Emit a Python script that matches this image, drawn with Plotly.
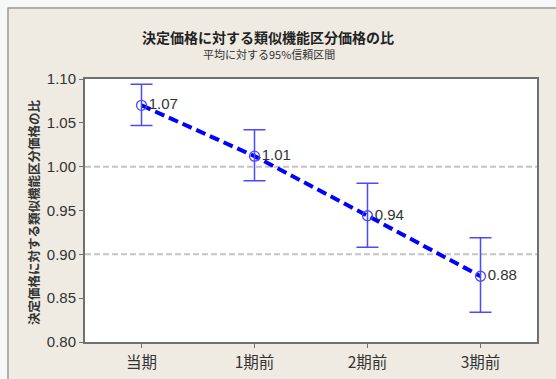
import plotly.graph_objects as go

categories = ['当期', '1期前', '2期前', '3期前']
means = [1.070, 1.012, 0.944, 0.875]
upper = [1.094, 1.042, 0.981, 0.919]
lower = [1.047, 0.984, 0.908, 0.834]
labels = ['1.07', '1.01', '0.94', '0.88']
ref_lines = [1.00, 0.90]

title = '決定価格に対する類似機能区分価格の比'
subtitle = '平均に対する95%信頼区間'
ytitle = '決定価格に対する類似機能区分価格の比'

W, H = 556, 379
L, R, T, B = 85, 537, 79, 342
pw, ph = R - L, B - T

def px_x(p):
    return (p - L) / pw

def px_y(p):
    return (B - p) / ph

FONT = 'Liberation Sans, Arial, Noto Sans CJK JP'
CJK = 'Noto Sans CJK JP, Liberation Sans'
BEIGE = '#EFEBE2'

xs = list(range(len(categories)))
err_plus = [u - m for u, m in zip(upper, means)]
err_minus = [m - l for m, l in zip(means, lower)]

fig = go.Figure()

# line
fig.add_trace(go.Scatter(
    x=xs, y=means, mode='lines',
    line=dict(color='#0000FF', width=4, dash='10px,5px'),
    hoverinfo='skip', showlegend=False))

# markers + error bars + labels
fig.add_trace(go.Scatter(
    x=xs, y=means, mode='markers+text',
    marker=dict(symbol='circle-open', size=10, color='#4A4AFF', line=dict(width=1.3)),
    error_y=dict(type='data', symmetric=False, array=err_plus, arrayminus=err_minus,
                 color='#4A4AFF', thickness=1.5, width=11),
    text=labels, textposition='middle right',
    textfont=dict(family=FONT, size=15, color='#333333'),
    showlegend=False))

shapes = []
for v in ref_lines:
    shapes.append(dict(type='line', xref='x', yref='y', x0=-0.5, x1=3.5, y0=v, y1=v,
                       line=dict(color='#C4C4C4', width=2, dash='6px,3px'), layer='below'))
# outer frame: white strips outside, gray border lines
shapes.append(dict(type='rect', xref='paper', yref='paper', x0=px_x(-5), x1=px_x(W + 5),
                   y0=px_y(7.5), y1=px_y(-5), fillcolor='#F6F7F9', line=dict(width=0), layer='above'))
shapes.append(dict(type='rect', xref='paper', yref='paper', x0=px_x(-5), x1=px_x(7.5),
                   y0=px_y(H + 5), y1=px_y(-5), fillcolor='#F6F7F9', line=dict(width=0), layer='above'))
shapes.append(dict(type='line', xref='paper', yref='paper', x0=px_x(7.5), x1=px_x(W + 5),
                   y0=px_y(8), y1=px_y(8), line=dict(color='#9A9A9A', width=1.5), layer='above'))
shapes.append(dict(type='line', xref='paper', yref='paper', x0=px_x(8), x1=px_x(8),
                   y0=px_y(8), y1=px_y(H + 5), line=dict(color='#9A9A9A', width=1.5), layer='above'))

annotations = [
    dict(text='<b>' + title + '</b>', xref='paper', yref='paper', x=px_x(268), y=px_y(37),
         xanchor='center', yanchor='middle', showarrow=False,
         font=dict(family=CJK, size=14, color='#222222')),
    dict(text=subtitle, xref='paper', yref='paper', x=px_x(269), y=px_y(54),
         xanchor='center', yanchor='middle', showarrow=False,
         font=dict(family=CJK, size=11, color='#333333')),
    dict(text='<b>' + ytitle + '</b>', xref='paper', yref='paper', x=px_x(33), y=px_y(212),
         xanchor='center', yanchor='middle', textangle=-90, showarrow=False,
         font=dict(family=CJK, size=12.5, color='#333333')),
]

fig.update_layout(
    width=W, height=H,
    margin=dict(l=L, r=W - R, t=T, b=H - B, pad=0, autoexpand=False),
    paper_bgcolor=BEIGE, plot_bgcolor='white',
    shapes=shapes, annotations=annotations,
    font=dict(family=FONT, size=14, color='#333333'),
    xaxis=dict(range=[-0.5, 3.5], tickmode='array', tickvals=xs, ticktext=categories,
               showgrid=False, zeroline=False, showline=True, mirror=True, automargin=False,
               linecolor='#707070', linewidth=2, ticks='outside', ticklen=4,
               tickcolor='#707070', tickwidth=1, ticklabelstandoff=1,
               tickfont=dict(family=CJK, size=15.5, color='#333333')),
    yaxis=dict(range=[0.80, 1.10], tickmode='array', automargin=False,
               tickvals=[0.80, 0.85, 0.90, 0.95, 1.00, 1.05, 1.10],
               ticktext=['0.80', '0.85', '0.90', '0.95', '1.00', '1.05', '1.10'],
               showgrid=False, zeroline=False, showline=True, mirror=True,
               linecolor='#707070', linewidth=2, ticks='outside', ticklen=4,
               tickcolor='#707070', tickwidth=1,
               tickfont=dict(family=FONT, size=15, color='#333333')),
)

fig.write_html('out.html')
